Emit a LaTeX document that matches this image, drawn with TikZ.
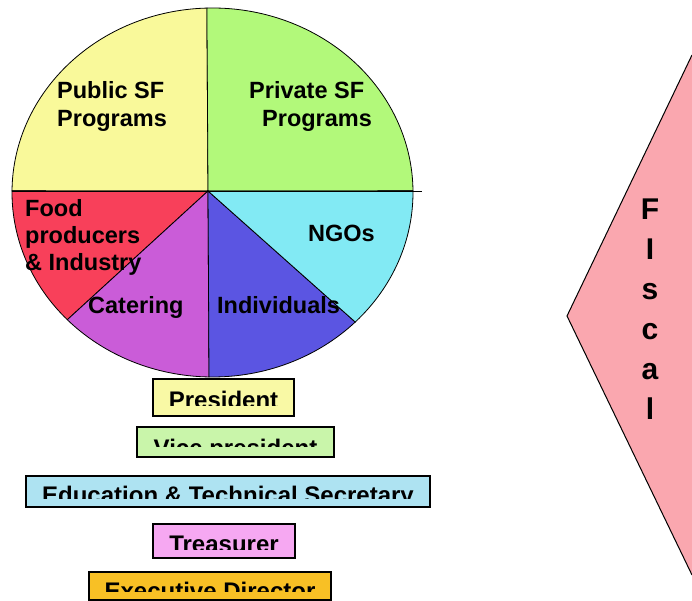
\documentclass[tikz,border=0pt]{standalone}
\usepackage{fontspec}
\setmainfont{Liberation Sans}
\usetikzlibrary{calc}

\definecolor{pubyellow}{RGB}{249,249,154}
\definecolor{privgreen}{RGB}{178,249,122}
\definecolor{foodred}{RGB}{248,64,90}
\definecolor{caterpurple}{RGB}{202,92,216}
\definecolor{indblue}{RGB}{91,85,226}
\definecolor{ngocyan}{RGB}{130,234,244}
\definecolor{presfill}{RGB}{249,249,165}
\definecolor{vicefill}{RGB}{201,245,170}
\definecolor{edufill}{RGB}{174,227,242}
\definecolor{treasfill}{RGB}{246,168,242}
\definecolor{execfill}{RGB}{248,192,37}
\definecolor{fiscalpink}{RGB}{250,167,175}

\tikzset{
  slice/.style = {draw = black, line width = 0.8pt},
  pielabel/.style = {anchor = base west, inner sep = 0pt, font = \fontsize{23.5}{28}\selectfont\bfseries},
  orgbox/.style = {draw = black, line width = 1.5pt, inner sep = 0pt},
  boxtext/.style = {anchor = base, inner sep = 0pt, font = \fontsize{24}{28}\selectfont\bfseries},
  fiscaltext/.style = {anchor = base, inner sep = 0pt, font = \fontsize{30}{36}\selectfont\bfseries}
}

\begin{document}
\begin{tikzpicture}[x = 1pt, y = 1pt]
    \useasboundingbox (0, 0) rectangle (692, 601);
    \clip (0, 0) rectangle (692, 601);

    % pie
    \coordinate (c) at (208, 410);
    \coordinate (e) at (212.5, 408.5);
    \draw [slice, fill = pubyellow] (c) -- ($(e) + (91.6:200.5 and 184.5)$) arc [start angle = 91.6, end angle = 179.5, x radius = 200.5, y radius = 184.5] -- cycle;
    \draw [slice, fill = privgreen] (c) -- ($(e) + (0.5:200.5 and 184.5)$) arc [start angle = 0.5, end angle = 91.6, x radius = 200.5, y radius = 184.5] -- cycle;
    \draw [slice, fill = foodred] (c) -- ($(e) + (179.5:200.5 and 184.5)$) arc [start angle = 179.5, end angle = 223.6, x radius = 200.5, y radius = 184.5] -- cycle;
    \draw [slice, fill = caterpurple] (c) -- ($(e) + (223.6:200.5 and 184.5)$) arc [start angle = 223.6, end angle = 269, x radius = 200.5, y radius = 184.5] -- cycle;
    \draw [slice, fill = indblue] (c) -- ($(e) + (269:200.5 and 184.5)$) arc [start angle = 269, end angle = 315.4, x radius = 200.5, y radius = 184.5] -- cycle;
    \draw [slice, fill = ngocyan] (c) -- ($(e) + (315.4:200.5 and 184.5)$) arc [start angle = 315.4, end angle = 360.5, x radius = 200.5, y radius = 184.5] -- cycle;
    \coordinate (axisL) at (12, 410);
    \coordinate (axisR) at (422, 410);
    \draw [slice] (axisL) -- (axisR);

    \node [pielabel] (pub1) at (57, 502) {Public SF};
    \node [pielabel] (pub2) at (57, 474) {Programs};
    \node [pielabel] (priv1) at (249, 502) {Private SF};
    \node [pielabel] (priv2) at (262, 474) {Programs};
    \node [pielabel] (food1) at (25, 384) {Food};
    \node [pielabel] (food2) at (25, 357) {producers};
    \node [pielabel] (food3) at (25, 330) {\& Industry};
    \node [pielabel] (cater) at (88, 287) {Catering};
    \node [pielabel] (ind) at (217, 287) {Individuals};
    \node [pielabel] (ngo) at (308, 359) {NGOs};

    % boxes, text cut off at the bottom
    \node [orgbox, fill = presfill, minimum width = 141pt, minimum height = 37pt] (pres) at (223.5, 203.5) {};
    \begin{scope}
        \clip (153, 195) rectangle (294, 222);
        \node [boxtext] (presText) at (223.5, 192) {President};
    \end{scope}
    \node [orgbox, fill = vicefill, minimum width = 197pt, minimum height = 30pt] (vice) at (235.5, 159) {};
    \begin{scope}
        \clip (137, 154) rectangle (334, 174);
        \node [boxtext] (viceText) at (235.5, 144) {Vice president};
    \end{scope}
    \node [orgbox, fill = edufill, minimum width = 404pt, minimum height = 31pt] (edu) at (228, 109.5) {};
    \begin{scope}
        \clip (26, 102) rectangle (430, 125);
        \node [boxtext] (eduText) at (228, 97) {Education \& Technical Secretary};
    \end{scope}
    \node [orgbox, fill = treasfill, minimum width = 142pt, minimum height = 34pt] (treas) at (224, 60) {};
    \begin{scope}
        \clip (153, 51) rectangle (295, 77);
        \node [boxtext] (treasText) at (224, 48) {Treasurer};
    \end{scope}
    \node [orgbox, fill = execfill, minimum width = 242pt, minimum height = 28pt] (exec) at (210, 15) {};
    \begin{scope}
        \clip (89, 9) rectangle (331, 29);
        \node [boxtext] (execText) at (210, 1) {Executive Director};
    \end{scope}

    % fiscal arrow
    \coordinate (fTop) at (692, 546);
    \coordinate (fTip) at (567, 285);
    \coordinate (fBot) at (692, 26);
    \fill [fiscalpink] (fTop) -- (fTip) -- (fBot) -- (700, 26) -- (700, 546) -- cycle;
    \draw [line width = 1pt] (fTop) -- (fTip) -- (fBot);
    \foreach \ch [count = \i] in {F, I, s, c, a, l}
        \node [fiscaltext] (fiscal\i) at (650, 421 - 40*\i) {\ch};
\end{tikzpicture}
\end{document}
